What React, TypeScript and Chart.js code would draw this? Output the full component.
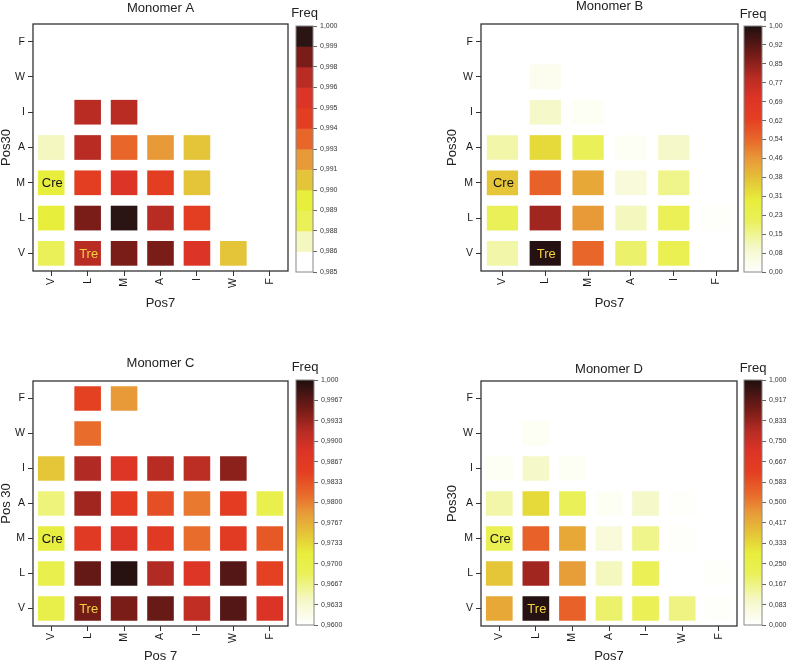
import React, { useEffect, useRef } from 'react';
import { Chart, registerables } from 'chart.js';

Chart.register(...registerables);

const FONT = "'Liberation Sans', Arial, Helvetica, sans-serif";
Chart.defaults.font.family = FONT;

// ---------- data ----------
// Pos30 residues, bottom -> top
const ROWS = ['V', 'L', 'M', 'A', 'I', 'W', 'F'];

// Pos7 residues per monomer
const COLS_A = ['V', 'L', 'M', 'A', 'I', 'W', 'F'];
const COLS_B = ['V', 'L', 'M', 'A', 'I', 'F'];
const COLS_C = ['V', 'L', 'M', 'A', 'I', 'W', 'F'];
const COLS_D = ['V', 'L', 'M', 'A', 'I', 'W', 'F'];

// Freq values, one row per Pos30 residue (ROWS order), one column per Pos7 residue
const FREQ_A = [
  [0.9881, 0.9969, 0.9981, 0.9981, 0.9956, 0.9906, null],
  [0.9894, 0.9981, 0.9994, 0.9969, 0.9944, null, null],
  [0.9894, 0.9944, 0.9956, 0.9944, 0.9906, null, null],
  [0.9869, 0.9969, 0.9931, 0.9919, 0.9906, null, null],
  [null, 0.9969, 0.9969, null, null, null, null],
  [null, null, null, null, null, null, null],
  [null, null, null, null, null, null, null],
];
const FREQ_B = [
  [0.13, 0.99, 0.54, 0.19, 0.23, null],
  [0.21, 0.82, 0.46, 0.11, 0.22, 0.01],
  [0.37, 0.55, 0.43, 0.07, 0.16, null],
  [0.13, 0.33, 0.21, 0.02, 0.10, null],
  [null, 0.10, 0.02, null, null, null],
  [null, 0.03, null, null, null, null],
  [null, null, null, null, null, null],
];
const FREQ_C = [
  [0.9700, 0.9954, 0.9950, 0.9960, 0.9908, 0.9970, 0.9884],
  [0.9696, 0.9962, 0.9995, 0.9920, 0.9880, 0.9970, 0.9848],
  [0.9712, 0.9864, 0.9880, 0.9864, 0.9812, 0.9860, 0.9828],
  [0.9670, 0.9928, 0.9856, 0.9836, 0.9804, 0.9856, 0.9696],
  [0.9748, 0.9920, 0.9880, 0.9916, 0.9912, 0.9940, null],
  [null, 0.9812, null, null, null, null, null],
  [null, 0.9848, 0.9784, null, null, null, null],
];
const FREQ_D = [
  [0.43, 0.99, 0.55, 0.19, 0.22, 0.17, 0.01],
  [0.37, 0.82, 0.45, 0.11, 0.22, null, 0.01],
  [0.23, 0.55, 0.43, 0.07, 0.16, 0.01, null],
  [0.13, 0.33, 0.21, 0.02, 0.10, 0.01, null],
  [0.02, 0.10, 0.02, null, null, null, null],
  [null, 0.02, null, null, null, null, null],
  [null, null, null, null, null, null, null],
];

// colour-bar tick labels
const TICKS_A = ['0,985', '0,986', '0,988', '0,989', '0,990', '0,991', '0,993', '0,994', '0,995', '0,996', '0,998', '0,999', '1,000'];
const TICKS_B = ['0,00', '0,08', '0,15', '0,23', '0,31', '0,38', '0,46', '0,54', '0,62', '0,69', '0,77', '0,85', '0,92', '1,00'];
const TICKS_C = ['0,9600', '0,9633', '0,9667', '0,9700', '0,9733', '0,9767', '0,9800', '0,9833', '0,9867', '0,9900', '0,9933', '0,9967', '1,000'];
const TICKS_D = ['0,000', '0,083', '0,167', '0,250', '0,333', '0,417', '0,500', '0,583', '0,667', '0,750', '0,833', '0,917', '1,000'];

const RANGE_A = [0.985, 1.0];
const RANGE_B = [0, 1];
const RANGE_C = [0.96, 1.0];
const RANGE_D = [0, 1];

// cell annotations
const NOTES = [
  { text: 'Cre', col: 'V', row: 'M', color: '#111111' },
  { text: 'Tre', col: 'L', row: 'V', color: '#f2d23c' },
];

// ---------- colours ----------
const BAND_COLORS_A = ['#ffffff', '#f4f8c0', '#eaf058', '#e8ee3c', '#e4c438', '#e89a38', '#e8662a', '#e43e22', '#dc3426', '#b82c24', '#7a1c18', '#2a1414'];
const STOPS: [number, string][] = [
  [0.0, '#ffffff'],
  [0.1, '#f5f8c8'],
  [0.21, '#eaf058'],
  [0.29, '#e8ee3c'],
  [0.375, '#e4c438'],
  [0.458, '#e89a38'],
  [0.54, '#e8662a'],
  [0.625, '#e43e22'],
  [0.708, '#dc3426'],
  [0.79, '#b82c24'],
  [0.875, '#7a1c18'],
  [1.0, '#1e1010'],
];

function hexToRgb(h: string) {
  const n = parseInt(h.slice(1), 16);
  return [(n >> 16) & 255, (n >> 8) & 255, n & 255];
}
function heatColor(t: number) {
  t = Math.max(0, Math.min(1, t));
  for (let i = 1; i < STOPS.length; i++) {
    if (t <= STOPS[i][0]) {
      const [p0, c0] = STOPS[i - 1];
      const [p1, c1] = STOPS[i];
      const f = (t - p0) / (p1 - p0);
      const a = hexToRgb(c0);
      const b = hexToRgb(c1);
      const m = a.map((v, k) => Math.round(v + (b[k] - v) * f));
      return `rgb(${m[0]},${m[1]},${m[2]})`;
    }
  }
  return STOPS[STOPS.length - 1][1];
}
function continuousColor(range: number[]) {
  return (v: number) => heatColor((v - range[0]) / (range[1] - range[0]));
}
function bandColor(range: number[], bands: string[]) {
  return (v: number) => {
    const k = Math.floor(((v - range[0]) / (range[1] - range[0])) * bands.length);
    return bands[Math.max(0, Math.min(bands.length - 1, k))];
  };
}

// ---------- plugins ----------
function framePlugin(color: string, width: number) {
  return {
    id: 'frame',
    afterDraw(chart: any) {
      const { ctx, chartArea: a } = chart;
      ctx.save();
      ctx.strokeStyle = color;
      ctx.lineWidth = width;
      ctx.strokeRect(a.left, a.top, a.right - a.left, a.bottom - a.top);
      ctx.restore();
    },
  };
}
function headPlugin(text: string, y: number) {
  return {
    id: 'head',
    afterDraw(chart: any) {
      const { ctx, chartArea: a } = chart;
      ctx.save();
      ctx.font = `13px ${FONT}`;
      ctx.fillStyle = '#222';
      ctx.textAlign = 'center';
      ctx.textBaseline = 'middle';
      ctx.fillText(text, (a.left + a.right) / 2, y);
      ctx.restore();
    },
  };
}
function notesPlugin(notes: typeof NOTES, cols: string[]) {
  return {
    id: 'notes',
    afterDatasetsDraw(chart: any) {
      const { ctx, scales } = chart;
      ctx.save();
      ctx.font = `13px ${FONT}`;
      ctx.textAlign = 'center';
      ctx.textBaseline = 'middle';
      notes.forEach((n) => {
        const x = scales.x.getPixelForValue(cols.indexOf(n.col));
        const y = scales.y.getPixelForValue(ROWS.indexOf(n.row));
        ctx.fillStyle = n.color;
        ctx.fillText(n.text, x + 1, y + 1);
      });
      ctx.restore();
    },
  };
}

// ---------- components ----------
type HeatProps = {
  left: number; top: number; width: number; height: number;
  cols: string[]; values: (number | null)[][]; colorFn: (v: number) => string;
  title: string; xTitle: string; yTitle: string;
  yAxisW: number; xAxisH: number; padRight: number;
  tTop: number; tBottom: number; xtPad: number; ytPad: number;
};

function Heatmap(p: HeatProps) {
  const ref = useRef<HTMLCanvasElement>(null);
  useEffect(() => {
    const pts: any[] = [];
    const colors: string[] = [];
    const H = 0.35;
    p.values.forEach((row, r) =>
      row.forEach((v, c) => {
        if (v == null) return;
        pts.push({ x: p.cols[c], y: [r - H, r + H] });
        colors.push(p.colorFn(v));
      })
    );
    const tickFont = { size: 10.5, family: FONT };
    const titleFont = { size: 13, family: FONT, lineHeight: 1 };
    const chart = new Chart(ref.current!, {
      type: 'bar',
      data: {
        labels: p.cols,
        datasets: [{ data: pts, backgroundColor: colors, borderWidth: 0, barPercentage: 0.73, categoryPercentage: 1, grouped: false } as any],
      },
      options: {
        animation: false,
        responsive: false,
        maintainAspectRatio: false,
        layout: { padding: { left: 0, right: p.padRight, top: 0, bottom: 0 } },
        plugins: {
          legend: { display: false },
          tooltip: { enabled: false },
          title: {
            display: true, text: p.title, fullSize: false, color: '#222',
            font: { size: 13, family: FONT, weight: 'normal', lineHeight: 1 } as any,
            padding: { top: p.tTop, bottom: p.tBottom },
          },
        },
        scales: {
          x: {
            type: 'category',
            offset: true,
            grid: { display: true, offset: false, drawOnChartArea: false, drawTicks: true, tickLength: 5, color: '#333', lineWidth: 1 },
            border: { display: false },
            ticks: { autoSkip: false, minRotation: 90, maxRotation: 90, padding: 2, color: '#1a1a1a', font: tickFont },
            title: { display: true, text: p.xTitle, color: '#222', font: titleFont, padding: { top: 0, bottom: p.xtPad } },
            afterFit: (s: any) => { s.height = p.xAxisH; },
          } as any,
          y: {
            type: 'linear',
            min: -0.5,
            max: 6.5,
            afterBuildTicks: (s: any) => { s.ticks = ROWS.map((_, i) => ({ value: i })); },
            grid: { display: true, drawOnChartArea: false, drawTicks: true, tickLength: 5, color: '#333', lineWidth: 1 },
            border: { display: false },
            ticks: { callback: (v: any) => ROWS[v] ?? '', padding: 3, color: '#1a1a1a', font: tickFont },
            title: { display: true, text: p.yTitle, color: '#222', font: titleFont, padding: { top: p.ytPad, bottom: 0 } },
            afterFit: (s: any) => { s.width = p.yAxisW; },
          } as any,
        },
      },
      plugins: [framePlugin('#333', 1.3), notesPlugin(NOTES, p.cols)],
    });
    return () => chart.destroy();
  }, []);
  return (
    <canvas ref={ref} width={p.width} height={p.height}
      style={{ position: 'absolute', left: p.left, top: p.top, width: p.width, height: p.height }} />
  );
}

type BarProps = {
  left: number; top: number; width: number; height: number;
  range: number[]; labels: string[]; bands?: string[];
  padLeft: number; padTop: number; padBottom: number; axisW: number; headY: number;
};

function ColorBar(p: BarProps) {
  const ref = useRef<HTMLCanvasElement>(null);
  useEffect(() => {
    const [min, max] = p.range;
    let data: any[];
    let bg: any;
    if (p.bands) {
      const n = p.bands.length;
      data = p.bands.map((_, k) => ({ x: 'c', y: [min + (k * (max - min)) / n, min + ((k + 1) * (max - min)) / n] }));
      bg = p.bands;
    } else {
      data = [{ x: 'c', y: [min, max] }];
      bg = (c: any) => {
        const chart = c.chart;
        if (!chart.chartArea) return '#ffffff';
        const ys = chart.scales.y;
        const g = chart.ctx.createLinearGradient(0, ys.getPixelForValue(min), 0, ys.getPixelForValue(max));
        STOPS.forEach(([pos, col]) => g.addColorStop(pos, col));
        return g;
      };
    }
    const chart = new Chart(ref.current!, {
      type: 'bar',
      data: { labels: ['c'], datasets: [{ data, backgroundColor: bg, borderWidth: 0, barPercentage: 1, categoryPercentage: 1, grouped: false } as any] },
      options: {
        animation: false,
        responsive: false,
        maintainAspectRatio: false,
        layout: { padding: { left: p.padLeft, right: 0, top: p.padTop, bottom: p.padBottom } },
        plugins: {
          legend: { display: false },
          tooltip: { enabled: false },
          title: { display: false },
        },
        scales: {
          x: { display: false, offset: true } as any,
          y: {
            type: 'linear',
            position: 'right',
            min,
            max,
            afterBuildTicks: (s: any) => {
              s.ticks = p.labels.map((_, i) => ({ value: min + (i * (max - min)) / (p.labels.length - 1) }));
            },
            grid: { display: true, drawOnChartArea: false, drawTicks: true, tickLength: 4, color: '#666', lineWidth: 1 },
            border: { display: false },
            ticks: { callback: (_v: any, i: number) => p.labels[i], padding: 3, color: '#333', font: { size: 7, family: FONT } },
            afterFit: (s: any) => { s.width = p.axisW; },
          } as any,
        },
      },
      plugins: [framePlugin('#888', 1), headPlugin('Freq', p.headY)],
    });
    return () => chart.destroy();
  }, []);
  return (
    <canvas ref={ref} width={p.width} height={p.height}
      style={{ position: 'absolute', left: p.left, top: p.top, width: p.width, height: p.height }} />
  );
}

export default function App() {
  return (
    <div style={{ position: 'absolute', left: 0, top: 0, width: 787, height: 663, background: '#ffffff', overflow: 'hidden' }}>
      <Heatmap left={0} top={0} width={292} height={320} cols={COLS_A} values={FREQ_A}
        colorFn={bandColor(RANGE_A, BAND_COLORS_A)} title="Monomer A" xTitle="Pos7" yTitle="Pos30"
        yAxisW={33} xAxisH={49} padRight={4} tTop={2} tBottom={9} xtPad={10} ytPad={0} />
      <ColorBar left={290} top={0} width={58} height={282} range={RANGE_A} labels={TICKS_A} bands={BAND_COLORS_A}
        padLeft={6} padTop={26} padBottom={10} axisW={35} headY={13} />

      <Heatmap left={440} top={0} width={300} height={320} cols={COLS_B} values={FREQ_B}
        colorFn={continuousColor(RANGE_B)} title="Monomer B" xTitle="Pos7" yTitle="Pos30"
        yAxisW={41} xAxisH={49} padRight={2} tTop={0} tBottom={11} xtPad={10} ytPad={5.5} />
      <ColorBar left={738} top={0} width={49} height={282} range={RANGE_B} labels={TICKS_B}
        padLeft={6} padTop={26} padBottom={10} axisW={25} headY={14} />

      <Heatmap left={0} top={330} width={292} height={333} cols={COLS_C} values={FREQ_C}
        colorFn={continuousColor(RANGE_C)} title="Monomer C" xTitle="Pos 7" yTitle="Pos 30"
        yAxisW={33} xAxisH={37} padRight={4} tTop={26.5} tBottom={11.5} xtPad={0} ytPad={0} />
      <ColorBar left={290} top={330} width={58} height={310} range={RANGE_C} labels={TICKS_C}
        padLeft={6} padTop={50} padBottom={15} axisW={34} headY={37} />

      <Heatmap left={440} top={330} width={299} height={333} cols={COLS_D} values={FREQ_D}
        colorFn={continuousColor(RANGE_D)} title="Monomer D" xTitle="Pos7" yTitle="Pos30"
        yAxisW={41} xAxisH={37} padRight={2} tTop={32.5} tBottom={5.5} xtPad={0} ytPad={5.5} />
      <ColorBar left={738} top={330} width={49} height={310} range={RANGE_D} labels={TICKS_D}
        padLeft={6} padTop={50} padBottom={15} axisW={25} headY={38} />
    </div>
  );
}
